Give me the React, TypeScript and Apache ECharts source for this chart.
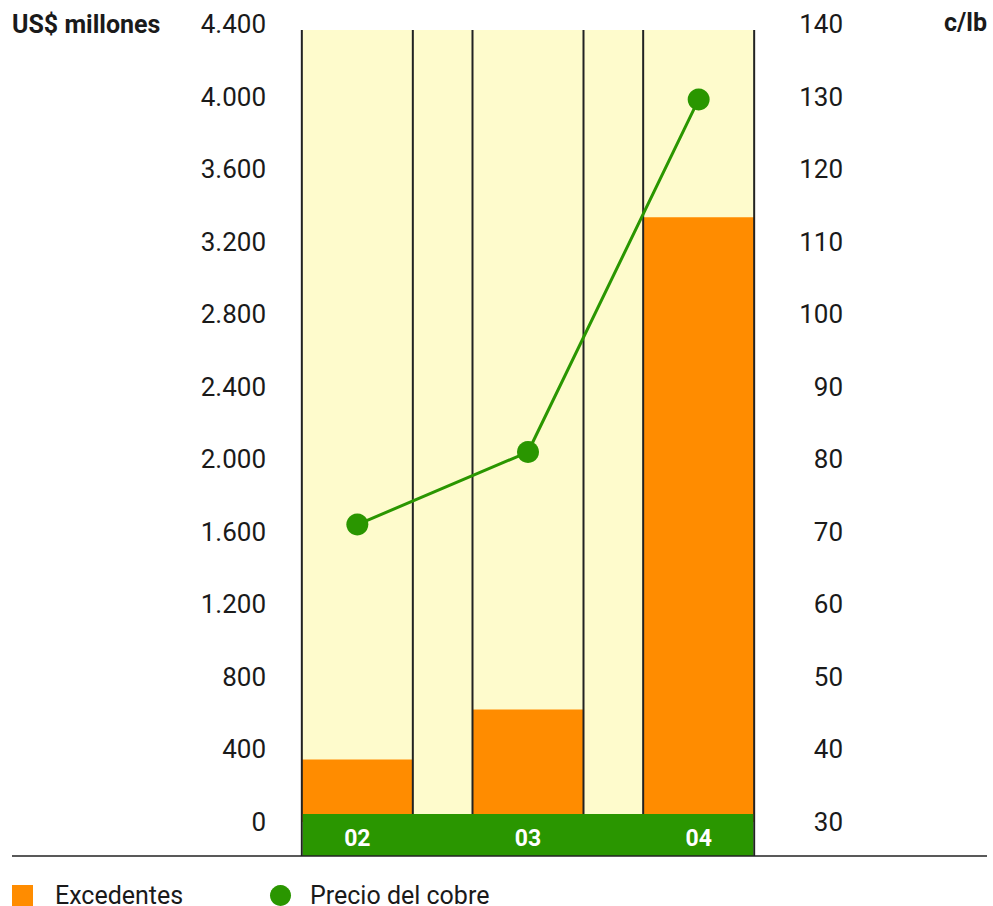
import React, { useEffect, useRef } from "react";
import * as echarts from "echarts";

const categories = ["02", "03", "04"];
const excedentes = [345, 620, 3335];
const precioCobre = [71.0, 81.0, 129.6];
const leftMin = 0;
const leftMax = 4400;
const leftStep = 400;
const rightMin = 30;
const rightMax = 140;
const rightStep = 10;

const FONT = "Roboto, 'Noto Sans', sans-serif";
const YELLOW = "#FEFBCC";
const ORANGE = "#FF8C00";
const GREEN = "#2A9600";
const BAR_W = 111;

const fmtThousands = (v: number) =>
  String(v).replace(/\B(?=(\d{3})+(?!\d))/g, ".");

export default function App() {
  const ref = useRef<HTMLDivElement>(null);

  useEffect(() => {
    if (!ref.current) return;
    const chart = echarts.init(ref.current, null, { renderer: "svg" });

    const frameData = categories.map((_, i) => [i, 0]);

    const geom = (params: any, api: any) => {
      const i = api.value(0);
      const c = api.coord([i, 0]);
      const band = api.size([1, 0])[0];
      const cs = params.coordSys;
      const left = c[0] - BAR_W / 2;
      const right = c[0] + BAR_W / 2;
      const last = i === categories.length - 1;
      const nextRight = !last ? c[0] + band - BAR_W / 2 + 1 : right;
      const gridBottom = cs.y + cs.height;
      return {
        i,
        last,
        left,
        right,
        nextRight,
        top: cs.y + 6,
        gridBottom,
        bandTop: gridBottom - 8,
        bottom: gridBottom + 34,
      };
    };

    const legendText = {
      fontFamily: FONT,
      fontSize: 25,
      lineHeight: 21,
      color: "#1a1a1a",
    };

    chart.setOption({
      animation: false,
      grid: { left: 272, right: 209, top: 24, bottom: 84, containLabel: false },
      legend: [
        {
          left: 12,
          top: 883,
          padding: 0,
          itemWidth: 21,
          itemHeight: 21,
          selectedMode: false,
          data: [{ name: "Excedentes", icon: "rect" }],
          textStyle: { ...legendText, padding: [0, 0, 0, 17] },
        },
        {
          left: 270,
          top: 883,
          padding: 0,
          itemWidth: 21,
          itemHeight: 21,
          selectedMode: false,
          data: [{ name: "Precio del cobre", icon: "circle" }],
          textStyle: { ...legendText, padding: [0, 0, 0, 14] },
        },
      ],
      xAxis: {
        type: "category",
        data: categories,
        z: 10,
        axisLine: { show: false },
        axisTick: { show: false },
        splitLine: { show: false },
        axisLabel: {
          color: "#ffffff",
          fontFamily: FONT,
          fontWeight: "bold",
          fontSize: 23,
          lineHeight: 24,
          margin: 4,
        },
      },
      yAxis: [
        {
          type: "value",
          min: leftMin,
          max: leftMax,
          interval: leftStep,
          position: "left",
          axisLine: { show: false },
          axisTick: { show: false },
          splitLine: { show: false },
          axisLabel: {
            fontFamily: FONT,
            fontSize: 26,
            color: "#1a1a1a",
            margin: 6,
            formatter: (v: number) => fmtThousands(v),
          },
        },
        {
          type: "value",
          min: rightMin,
          max: rightMax,
          interval: rightStep,
          position: "right",
          axisLine: { show: false },
          axisTick: { show: false },
          splitLine: { show: false },
          axisLabel: {
            fontFamily: FONT,
            fontSize: 26,
            color: "#1a1a1a",
            margin: 59,
            align: "right",
          },
        },
      ],
      series: [
        {
          name: "fondo",
          type: "custom",
          z: 1,
          silent: true,
          encode: { x: 0, y: 1 },
          data: frameData,
          renderItem: (params: any, api: any) => {
            const g = geom(params, api);
            return {
              type: "rect",
              shape: { x: g.left, y: g.top, width: g.nextRight - g.left, height: g.bandTop - g.top },
              style: { fill: YELLOW },
            };
          },
        },
        {
          name: "Excedentes",
          type: "bar",
          yAxisIndex: 0,
          barWidth: BAR_W,
          z: 2,
          itemStyle: { color: ORANGE },
          data: excedentes,
        },
        {
          name: "marco",
          type: "custom",
          z: 3,
          silent: true,
          encode: { x: 0, y: 1 },
          data: frameData,
          renderItem: (params: any, api: any) => {
            const g = geom(params, api);
            return {
              type: "group",
              children: [
                {
                  type: "line",
                  shape: { x1: g.left, y1: g.top, x2: g.left, y2: g.i === 0 ? g.bottom : g.bandTop },
                  style: { stroke: "#222", lineWidth: 2 },
                },
                {
                  type: "line",
                  shape: { x1: g.right, y1: g.top, x2: g.right, y2: g.last ? g.bottom : g.bandTop },
                  style: { stroke: "#222", lineWidth: 2 },
                },
                {
                  type: "rect",
                  shape: {
                    x: g.left + (g.i === 0 ? 1 : 0),
                    y: g.bandTop,
                    width: g.nextRight - g.left - (g.i === 0 ? 1 : 0) - (g.last ? 1 : 0),
                    height: g.bottom - g.bandTop,
                  },
                  style: { fill: GREEN },
                },
              ],
            };
          },
        },
        {
          name: "Precio del cobre",
          type: "line",
          yAxisIndex: 1,
          z: 5,
          symbol: "circle",
          symbolSize: 22,
          lineStyle: { color: GREEN, width: 3 },
          itemStyle: { color: GREEN },
          data: precioCobre,
        },
      ],
      graphic: [
        {
          type: "text",
          left: 12,
          top: 12,
          style: {
            text: "US$ millones",
            fontFamily: FONT,
            fontSize: 25,
            fontWeight: "bold",
            fill: "#1a1a1a",
          },
        },
        {
          type: "text",
          right: 6,
          top: 10,
          style: {
            text: "c/lb",
            fontFamily: FONT,
            fontSize: 25,
            fontWeight: "bold",
            fill: "#1a1a1a",
          },
        },
        {
          type: "line",
          shape: { x1: 12, y1: 856, x2: 987, y2: 856 },
          style: { stroke: "#222", lineWidth: 1.5 },
          z: 10,
        },
      ],
    });

    return () => chart.dispose();
  }, []);

  return (
    <div
      ref={ref}
      style={{ position: "absolute", left: 0, top: 0, width: 993, height: 906 }}
    />
  );
}
